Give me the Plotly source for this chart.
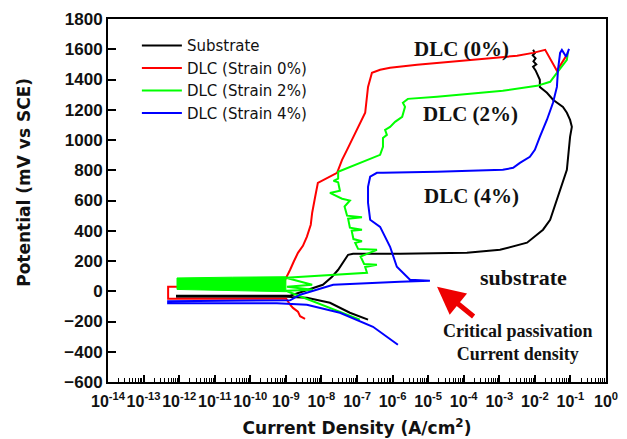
import plotly.graph_objects as go

# ---- data (log10 of current density in A/cm2, potential in mV vs SCE) ----
black_logI = [-6.69, -7.20, -7.76, -8.41, -8.97, -12.06, -12.06, -8.88, -7.96, -7.70, -7.53, -7.25,
              -7.11, -5.79, -3.91, -2.98, -2.22, -1.77, -1.57, -1.38, -1.21, -1.10, -1.01, -0.96,
              -1.01, -1.10, -1.21, -1.38, -1.49, -1.66, -1.86, -1.86, -1.94, -1.98, -2.05, -1.96,
              -2.04, -1.98, -2.06, -2.00, -2.05]
black_V = [-188, -142, -76, -43, -36, -36, -30, -30, 43, 96, 142, 241,
           248, 248, 254, 274, 321, 407, 473, 605, 737, 803, 1021, 1087,
           1133, 1180, 1219, 1246, 1266, 1312, 1351, 1398, 1444, 1460, 1484, 1500,
           1520, 1540, 1560, 1575, 1596]

red_logI = [-8.46, -8.60, -8.66, -8.80, -8.88, -8.99, -12.31, -12.31, -12.06, -9.05, -9.02,
            -8.95, -8.88, -8.78, -8.66, -8.52, -8.41, -8.30, -8.26, -8.18, -8.10, -7.56,
            -7.42, -7.28, -7.00, -6.77, -6.69, -6.58, -6.35, -6.07, -5.31, -4.39, -3.46,
            -2.50, -2.05, -1.71, -1.38, -1.10]
red_V = [-182, -165, -135, -110, -89, -50, -50, 30, 30, 40, 76,
         105, 142, 195, 254, 300, 360, 440, 519, 620, 717, 783,
         869, 935, 1067, 1180, 1351, 1444, 1464, 1477, 1497, 1517, 1537,
         1557, 1576, 1596, 1458, 1563]

green_logI = [-6.92, -7.80, -8.60, -9.00, -8.24, -8.97, -8.26, -9.00, -6.72, -6.77, -6.44, -6.80,
              -6.90, -6.44, -6.97, -7.05, -6.86, -7.10, -7.15, -6.86, -7.20, -7.25, -6.86, -7.28,
              -7.35, -7.20, -7.42, -7.76, -7.48, -7.53, -7.66, -7.53, -7.53, -6.92, -6.35, -6.27,
              -6.27, -6.16, -6.21, -6.07, -5.93, -5.73, -5.65, -5.71, -5.57, -4.75, -3.82, -2.90,
              -1.94, -1.57, -1.38, -1.10, -1.07]
green_V = [-188, -105, -30, 3, 10, 30, 43, 89, 122, 160, 175, 180,
           230, 274, 280, 320, 330, 345, 400, 407, 420, 480, 490, 500,
           560, 600, 612, 650, 665, 720, 730, 745, 790, 849, 902, 955,
           1014, 1034, 1067, 1087, 1120, 1153, 1219, 1246, 1272, 1286, 1306, 1325,
           1358, 1385, 1444, 1530, 1583]

# dense noisy region of the 2% curve near the corrosion potential (outline)
green_band_logI = [-12.06, -12.06, -10.5, -9.00, -9.00, -10.5, -12.06]
green_band_V = [12, 88, 93, 96, -3, 5, 12]

blue_logI = [-5.85, -6.55, -7.48, -8.41, -9.25, -12.31, -12.31, -8.88, -8.60, -7.67, -5.79,
             -4.95, -5.51, -5.88, -6.07, -6.35, -6.63, -6.69, -6.69, -6.63, -6.44, -6.27,
             -4.75, -2.90, -2.61, -2.42, -2.14, -2.00, -1.86, -1.66, -1.49, -1.38, -1.35,
             -1.29, -1.24, -1.12, -1.04]
blue_V = [-354, -235, -142, -89, -80, -80, -66, -60, -23, 43, 63,
          69, 76, 162, 294, 426, 473, 585, 691, 757, 783, 783,
          790, 803, 816, 849, 889, 935, 1021, 1134, 1246, 1351, 1464,
          1576, 1596, 1550, 1603]

x_ticks = [10.0 ** e for e in range(-14, 1)]
x_ticktext = ["10<sup>%d</sup>" % e for e in range(-14, 1)]
y_ticks = list(range(-600, 1801, 200))

def cur(vals):
    return [10.0 ** v for v in vals]

fig = go.Figure()
fig.add_trace(go.Scatter(x=cur(black_logI), y=black_V, mode="lines", name="Substrate",
                         line=dict(color="black", width=2)))
fig.add_trace(go.Scatter(x=cur(red_logI), y=red_V, mode="lines", name="DLC (Strain 0%)",
                         line=dict(color="#ff0000", width=2)))
fig.add_trace(go.Scatter(x=cur(green_logI), y=green_V, mode="lines", name="DLC (Strain 2%)",
                         line=dict(color="#00ff00", width=2), legendgroup="g"))
fig.add_trace(go.Scatter(x=cur(blue_logI), y=blue_V, mode="lines", name="DLC (Strain 4%)",
                         line=dict(color="#0000ff", width=2)))
fig.add_trace(go.Scatter(x=cur(green_band_logI), y=green_band_V, mode="lines", fill="toself",
                         fillcolor="#00ff00", line=dict(color="#00ff00", width=1),
                         showlegend=False, legendgroup="g", hoverinfo="skip"))

serif = "Liberation Serif, Times New Roman, serif"
labels = [
    ("DLC (0%)", -4.05, 1603, 21),
    ("DLC (2%)", -3.82, 1173, 21),
    ("DLC (4%)", -3.79, 631, 21),
    ("substrate", -2.33, 89, 22),
]
for txt, lx, ly, fs in labels:
    fig.add_annotation(x=lx, y=ly, xref="x", yref="y", text="<b>%s</b>" % txt, showarrow=False,
                       font=dict(family=serif, size=fs, color="#111111"))
fig.add_annotation(x=-2.47, y=-340, xref="x", yref="y",
                   text="<b>Critical passivation<br>Current density</b>", showarrow=False,
                   font=dict(family=serif, size=18, color="#111111"))
# red arrow
fig.add_annotation(x=-4.75, y=30, xref="x", yref="y", ax=-3.68, ay=-175, axref="x", ayref="y",
                   text="", showarrow=True, arrowhead=2, arrowsize=1.1, arrowwidth=5,
                   arrowcolor="#ee0000")
# y-axis title (placed as in the original, slightly above the axis centre)
fig.add_annotation(x=-0.169, y=0.551, xref="paper", yref="paper", textangle=-90,
                   text="<b>Potential (mV vs SCE)</b>", showarrow=False,
                   xanchor="center", yanchor="middle",
                   font=dict(family="DejaVu Sans, sans-serif", size=17, color="#111111"))

sans = "Liberation Sans, Arial, sans-serif"
fig.update_layout(
    width=619, height=431,
    margin=dict(l=100, r=21, t=11, b=57),
    paper_bgcolor="white", plot_bgcolor="white",
    showlegend=True,
    legend=dict(x=0.058, y=0.972, xanchor="left", yanchor="top", bgcolor="rgba(0,0,0,0)",
                font=dict(family="DejaVu Sans, sans-serif", size=15, color="#111111"),
                tracegroupgap=0, itemwidth=40),
    xaxis=dict(type="log", range=[-14, 0], tickvals=x_ticks, ticktext=x_ticktext,
               tickangle=0, automargin=False, ticklabelstandoff=4,
               ticks="inside", ticklen=7, tickwidth=1.5, tickcolor="black",
               showline=True, linewidth=2, linecolor="black", mirror=True, showgrid=False,
               zeroline=False,
               minor=dict(ticks="inside", ticklen=4, tickwidth=1, tickcolor="black", dtick="D1",
                          showgrid=False),
               tickfont=dict(family=sans, size=16, color="#111111", weight="bold"),
               title=dict(text="<b>Current Density (A/cm<sup>2</sup>)</b>", standoff=13,
                          font=dict(family="DejaVu Sans, sans-serif", size=17, color="#111111"))),
    yaxis=dict(range=[-600, 1800], tickvals=y_ticks, ticks="inside", ticklen=8, tickwidth=1.5,
               automargin=False,
               tickcolor="black", showline=True, linewidth=2, linecolor="black", mirror=True,
               showgrid=False, zeroline=False,
               tickfont=dict(family=sans, size=17, color="#111111", weight="bold")),
)

fig.write_html("out.html")
